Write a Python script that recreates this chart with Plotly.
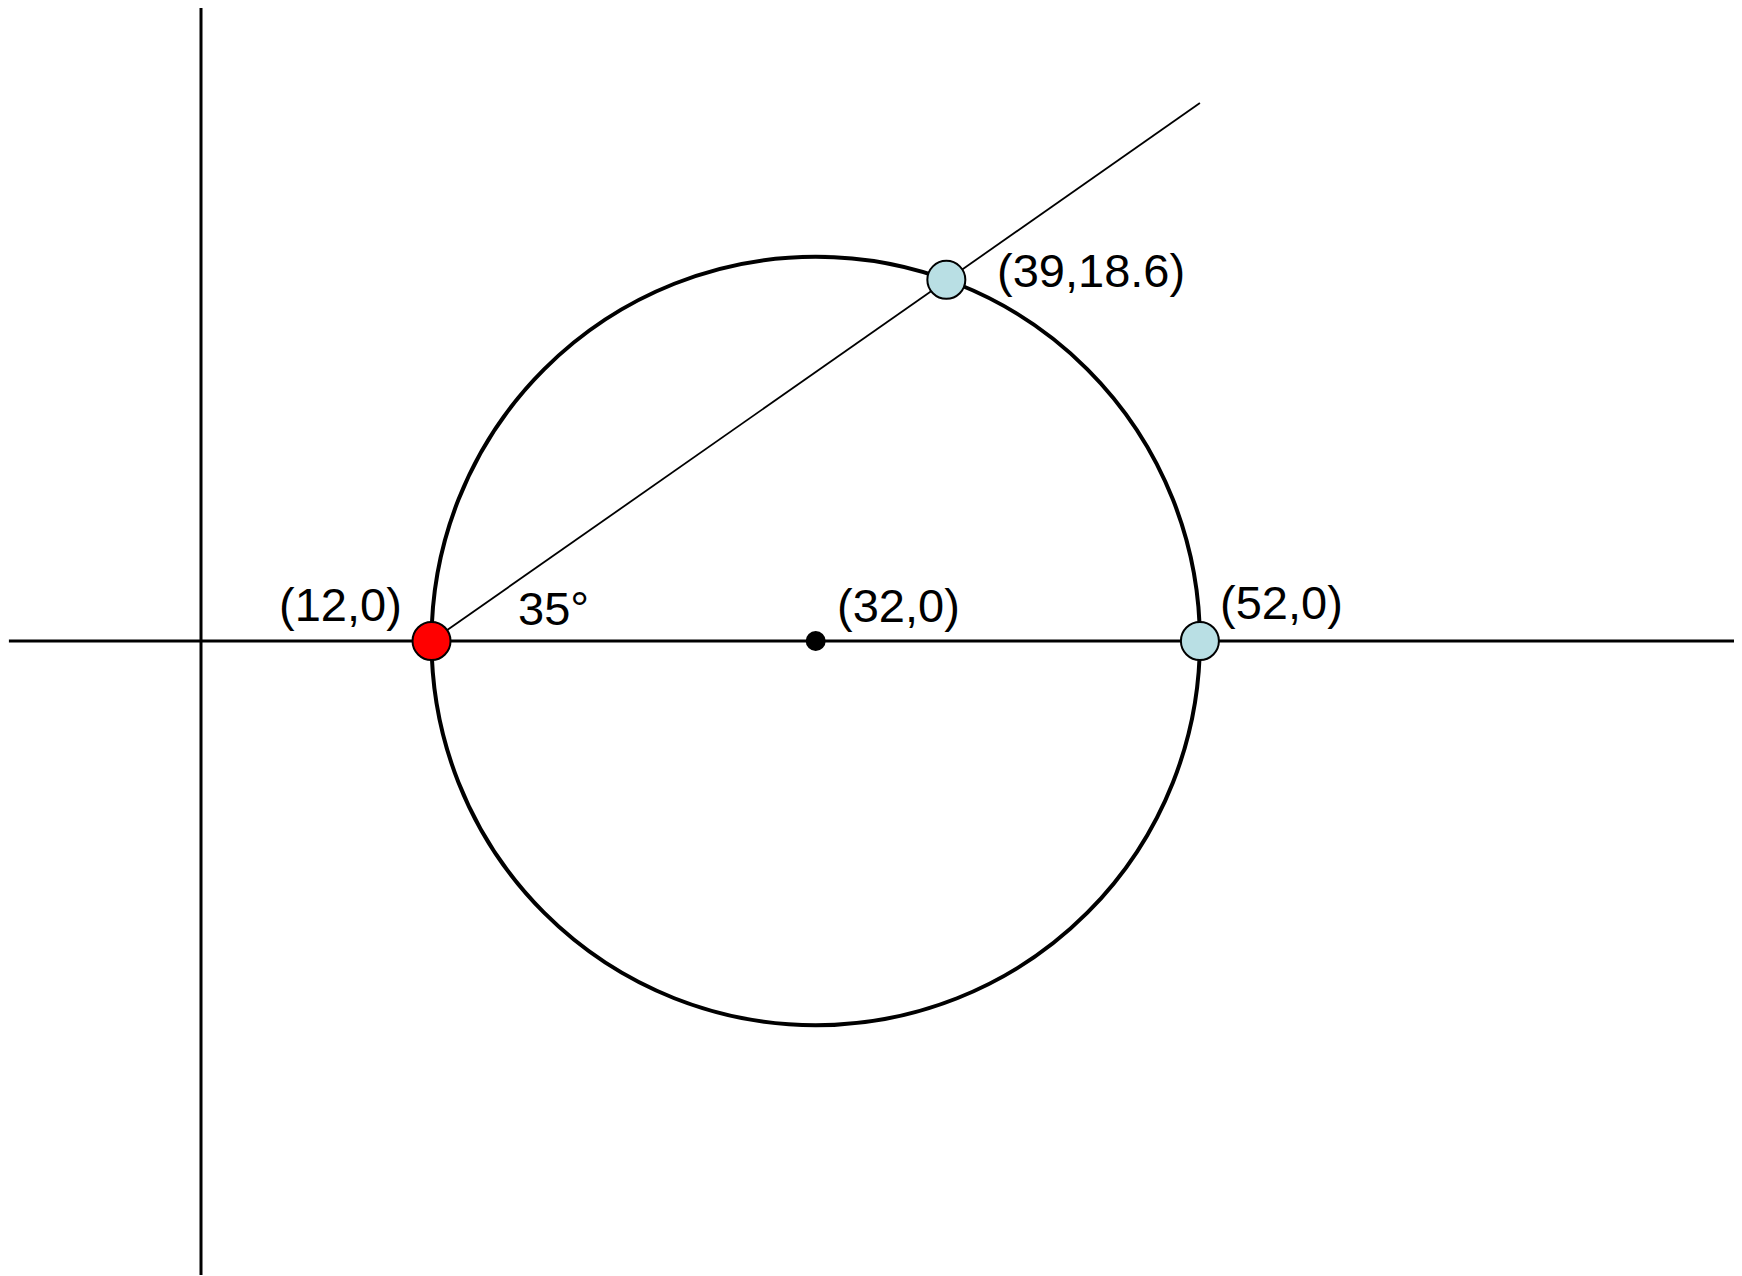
import plotly.graph_objects as go

# ---- data ----
x_axis_extent = [-10, 80]          # horizontal axis line (data units)
y_axis_extent = [-33, 33]          # vertical axis line
circle_center = [32, 0]
circle_radius = 20
ray_x = [12, 52]                   # 35 degree ray from (12,0)
ray_y = [0, 28]
start_point = [12, 0]              # red point
hit_points_x = [38.8, 52]          # light-blue points
hit_points_y = [18.8, 0]
label_texts = ["(12,0)", "(39,18.6)", "(32,0)", "(52,0)", "35°"]
label_x = [10.55, 41.35, 33.0, 52.95, 16.4]
label_y = [1.9, 19.3, 1.85, 2.0, 1.7]
label_anchor = ["right", "left", "left", "left", "left"]

FONT = "Liberation Sans, Arial, sans-serif"

fig = go.Figure()

# axes
fig.add_trace(go.Scatter(x=x_axis_extent, y=[0, 0], mode="lines",
                         line=dict(color="black", width=3), hoverinfo="skip"))
fig.add_trace(go.Scatter(x=[0, 0], y=y_axis_extent, mode="lines",
                         line=dict(color="black", width=3), hoverinfo="skip"))

# circle
fig.add_shape(type="circle", xref="x", yref="y",
              x0=circle_center[0] - circle_radius, x1=circle_center[0] + circle_radius,
              y0=circle_center[1] - circle_radius, y1=circle_center[1] + circle_radius,
              line=dict(color="black", width=4), layer="below")

# ray
fig.add_trace(go.Scatter(x=ray_x, y=ray_y, mode="lines",
                         line=dict(color="black", width=1.8), hoverinfo="skip"))

# center dot
fig.add_trace(go.Scatter(x=[circle_center[0]], y=[circle_center[1]], mode="markers",
                         marker=dict(color="black", size=20), hoverinfo="skip"))

# light-blue points
fig.add_trace(go.Scatter(x=hit_points_x, y=hit_points_y, mode="markers",
                         marker=dict(color="#b9dfe4", size=38,
                                     line=dict(color="black", width=2)),
                         hoverinfo="skip", cliponaxis=False))
# red point
fig.add_trace(go.Scatter(x=[start_point[0]], y=[start_point[1]], mode="markers",
                         marker=dict(color="#ff0000", size=38,
                                     line=dict(color="black", width=2)),
                         hoverinfo="skip", cliponaxis=False))

for t, x, y, a in zip(label_texts, label_x, label_y, label_anchor):
    fig.add_annotation(x=x, y=y, xref="x", yref="y", text=t, showarrow=False,
                       xanchor=a, yanchor="middle",
                       font=dict(family=FONT, size=47, color="black"))

fig.update_layout(
    width=1742, height=1276,
    margin=dict(l=0, r=0, t=0, b=0),
    paper_bgcolor="white", plot_bgcolor="white",
    showlegend=False,
    xaxis=dict(range=[-10.047, 80.636], visible=False, fixedrange=True),
    yaxis=dict(range=[-33.47, 32.95], visible=False, fixedrange=True),
)

fig.write_html("out.html")
